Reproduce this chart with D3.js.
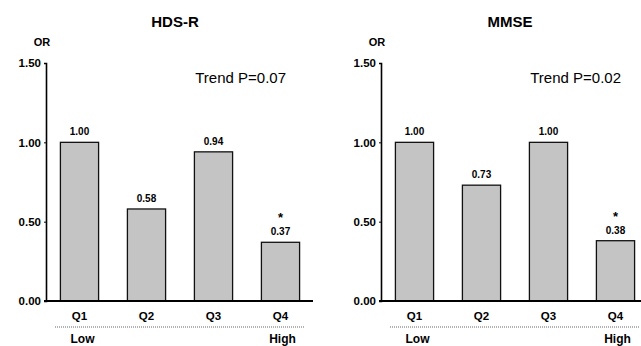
<!DOCTYPE html>
<html><head><meta charset="utf-8">
<script src="https://cdn.jsdelivr.net/npm/d3@7"></script>
<style>body{margin:0;background:#fff}svg{display:block}text{font-family:"Liberation Sans",Arial,sans-serif}</style>
</head><body>
<svg id="c" width="641" height="346"></svg>
<script>
const categories = ["Q1","Q2","Q3","Q4"];
const panelTitles = ["HDS-R","MMSE"];
const trendLabels = ["Trend P=0.07","Trend P=0.02"];
const hdsValues = [1.00, 0.58, 0.94, 0.37];
const mmseValues = [1.00, 0.73, 1.00, 0.38];
const significant = [false, false, false, true];
const yTicks = [0, 0.5, 1.0, 1.5];
const rangeLabels = ["Low","High"];

const svg = d3.select("#c");
const y = d3.scaleLinear().domain([0,1.5]).range([301,63]);

function panel(x0, axisEnd, title, trend, values){
  const g = svg.append("g");
  const x = d3.scaleBand().domain(categories).range([x0, x0+268]).paddingInner(0.43).paddingOuter(0.215);
  g.append("text").attr("x", x0+129).attr("y", 27).attr("text-anchor","middle")
    .attr("font-size",15).attr("font-weight","bold").text(title);
  g.append("text").attr("x", x0-4).attr("y", 46).attr("text-anchor","middle")
    .attr("font-size",11).attr("font-weight","bold").text("OR");
  g.append("text").attr("x", x0+240).attr("y", 83).attr("text-anchor","end")
    .attr("font-size",15).text(trend);
  g.selectAll("rect.bar").data(values).join("rect")
    .attr("x",(d,i)=>x(categories[i])).attr("width",x.bandwidth())
    .attr("y",d=>y(d)).attr("height",d=>y(0)-y(d))
    .attr("fill","#c4c4c4").attr("stroke","#111").attr("stroke-width",1.3);
  g.selectAll("text.val").data(values).join("text")
    .attr("x",(d,i)=>x(categories[i])+x.bandwidth()/2).attr("y",d=>y(d)-7)
    .attr("text-anchor","middle").attr("font-size",10).attr("font-weight","bold")
    .text(d=>d3.format(".2f")(d));
  g.selectAll("text.star").data(values.map((d,i)=>({d,i})).filter(o=>significant[o.i])).join("text")
    .attr("x",o=>x(categories[o.i])+x.bandwidth()/2).attr("y",o=>y(o.d)-20)
    .attr("text-anchor","middle").attr("font-size",13).attr("font-weight","bold").text("*");
  const ya = g.append("g").attr("transform",`translate(${x0},0)`)
    .call(d3.axisLeft(y).tickValues(yTicks).tickSize(2).tickFormat(d3.format(".2f")));
  ya.select(".domain").attr("stroke","#000").attr("stroke-width",1.6);
  ya.selectAll(".tick line").attr("stroke","#000");
  ya.selectAll(".tick text").attr("font-size",11.5).attr("font-weight","bold").attr("x",-5)
    .attr("font-family","Liberation Sans, Arial, sans-serif").attr("fill","#000");
  g.append("line").attr("x1",x0-2).attr("x2",axisEnd).attr("y1",y(0)).attr("y2",y(0))
    .attr("stroke","#000").attr("stroke-width",1.8);
  g.selectAll("text.cat").data(categories).join("text")
    .attr("x",d=>x(d)+x.bandwidth()/2).attr("y",320).attr("text-anchor","middle")
    .attr("font-size",11.5).attr("font-weight","bold").text(d=>d);
  g.append("line").attr("x1",x0+9).attr("x2",Math.min(x0+258,641)).attr("y1",327).attr("y2",327)
    .attr("stroke","#666").attr("stroke-width",1).attr("stroke-dasharray","1,1");
  g.append("text").attr("x",x(categories[0])+x.bandwidth()/2+3).attr("y",343).attr("text-anchor","middle")
    .attr("font-size",12).attr("font-weight","bold").text(rangeLabels[0]);
  g.append("text").attr("x",x(categories[3])+x.bandwidth()/2+2).attr("y",343).attr("text-anchor","middle")
    .attr("font-size",12).attr("font-weight","bold").text(rangeLabels[1]);
}
panel(46, 313, panelTitles[0], trendLabels[0], hdsValues);
panel(381, 641, panelTitles[1], trendLabels[1], mmseValues);
</script>
</body></html>
